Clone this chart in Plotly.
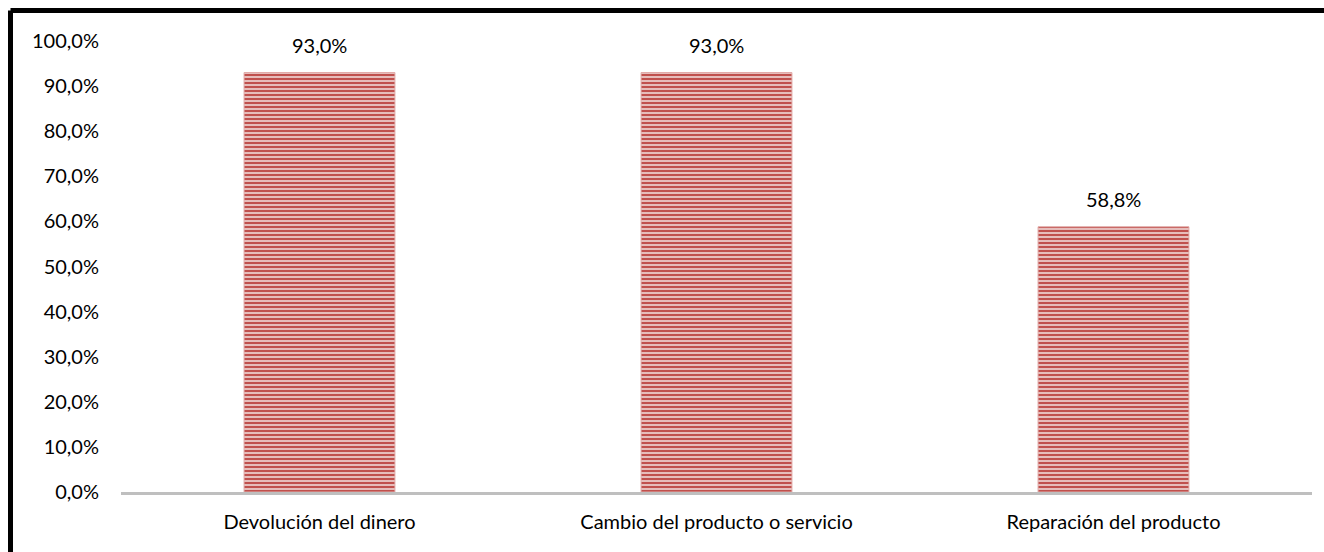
import plotly.graph_objects as go

categories = ["Devolución del dinero", "Cambio del producto o servicio", "Reparación del producto"]
values = [0.930, 0.930, 0.588]
y_ticks = [0.0, 0.1, 0.2, 0.3, 0.4, 0.5, 0.6, 0.7, 0.8, 0.9, 1.0]

W, H = 1324, 552
L, R, T, B = 121, 12, 41, 60
pw, ph = W - L - R, H - T - B

def fmt(v):
    return f"{v*100:.1f}%".replace(".", ",")

fig = go.Figure()
fig.add_trace(go.Bar(
    x=categories, y=values, width=0.38,
    marker=dict(
        color="#f0d8d7",
        pattern=dict(shape="-", fgcolor="#c0504d", bgcolor="#f0d8d7", size=4, solidity=0.6,
                     fgopacity=1),
        line=dict(color="#e0a8a6", width=1),
    ),
    hoverinfo="skip",
))

font = dict(family="Lato", size=20, color="#000000")
for c, v in zip(categories, values):
    fig.add_annotation(x=c, y=v, text=fmt(v), showarrow=False, yanchor="bottom",
                       yshift=14, font=font)

fig.update_layout(
    width=W, height=H,
    margin=dict(l=L, r=R, t=T, b=B, autoexpand=False),
    paper_bgcolor="white", plot_bgcolor="white",
    separators=",.",
    showlegend=False,
    xaxis=dict(showgrid=False, showline=True, linecolor="#bfbfbf", linewidth=3,
               ticks="", tickfont=font, ticklabelstandoff=10, zeroline=False),
    yaxis=dict(range=[0, 1.0], tickvals=y_ticks, tickformat=".1%", showgrid=False,
               showline=False, zeroline=False, ticks="", tickfont=font, ticklabelstandoff=21),
)

# black frame around chart (extends off the right and bottom edges)
x0 = (10.5 - L) / pw
y0 = 1 + (T - 10.5) / ph
fig.add_shape(type="line", xref="paper", yref="paper", x0=x0, y0=y0, x1=1.2, y1=y0,
              line=dict(color="black", width=5))
fig.add_shape(type="line", xref="paper", yref="paper", x0=x0, y0=y0, x1=x0, y1=-0.3,
              line=dict(color="black", width=5))

fig.write_html("out.html")
